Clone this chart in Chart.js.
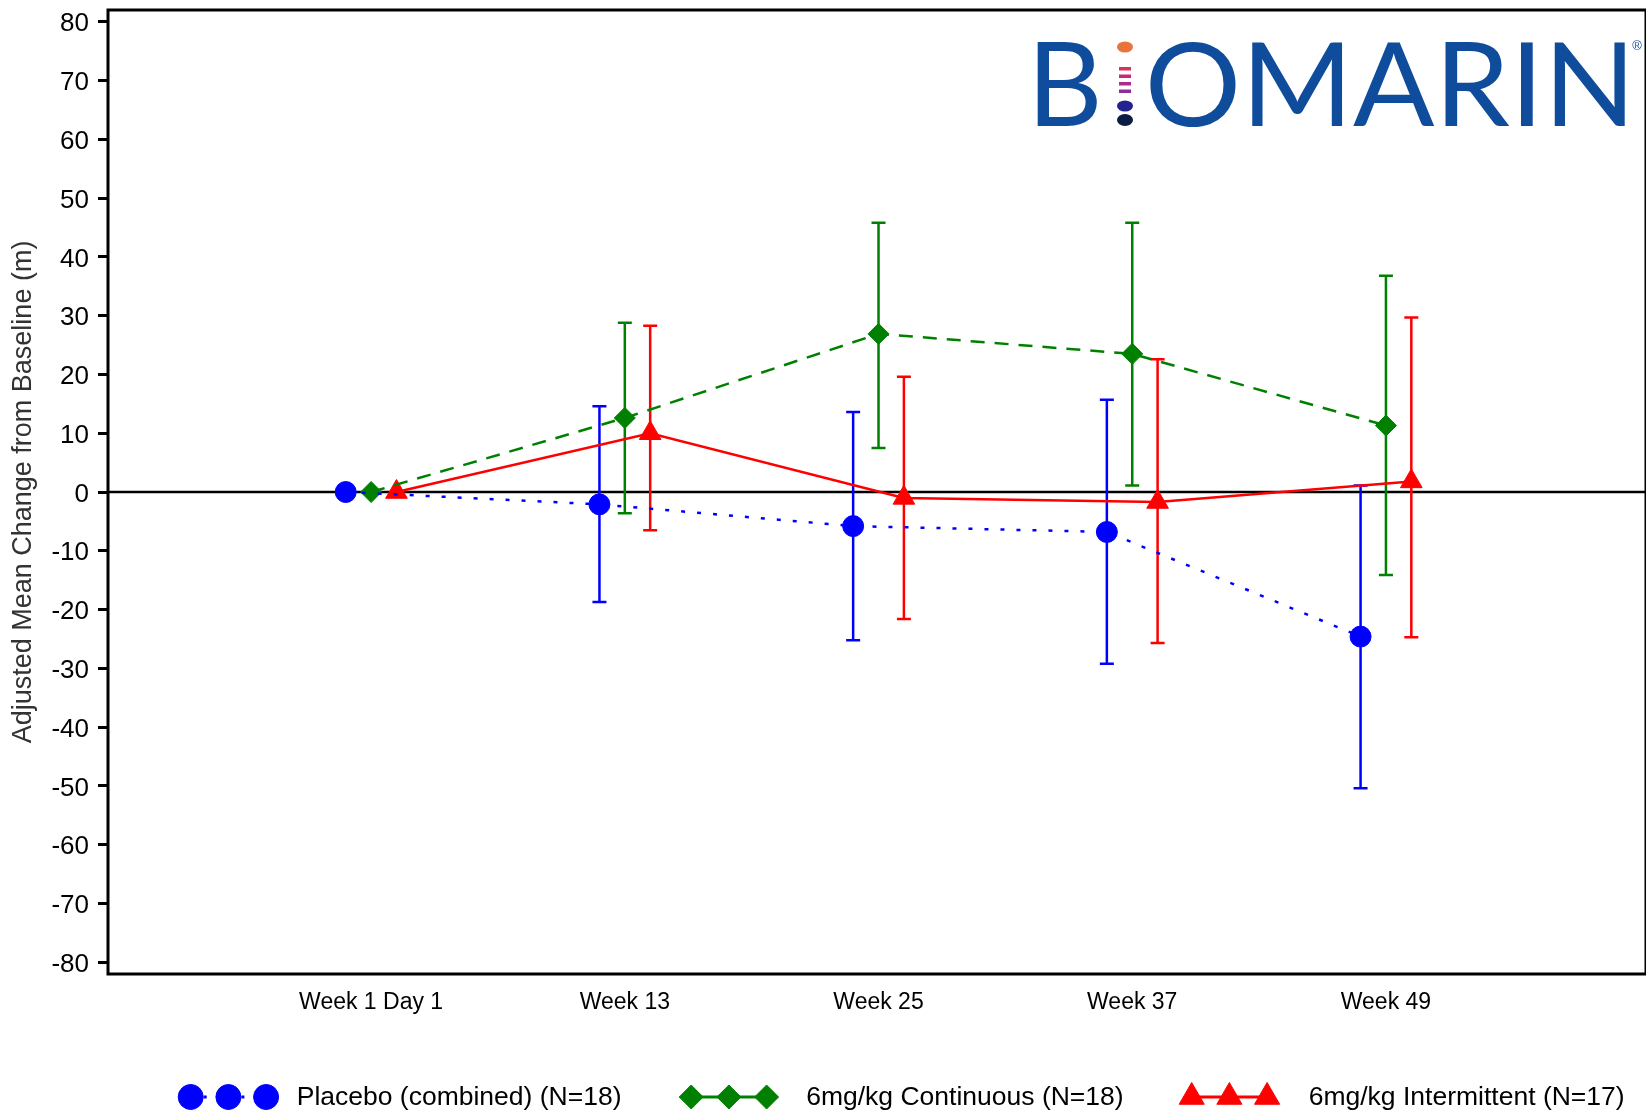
<!DOCTYPE html>
<html>
<head>
<meta charset="utf-8">
<script src="https://cdn.jsdelivr.net/npm/chart.js@4.4.0/dist/chart.umd.min.js"></script>
<style>
  html, body { margin: 0; padding: 0; background: #fff; }
  canvas { display: block; }
</style>
</head>
<body>
<canvas id="c" width="1646" height="1115"></canvas>
<script>
// Visits on the x axis
const visits = ['Week 1 Day 1', 'Week 13', 'Week 25', 'Week 37', 'Week 49'];
const yTickValues = [80, 70, 60, 50, 40, 30, 20, 10, 0, -10, -20, -30, -40, -50, -60, -70, -80];

const seriesNames = ['Placebo (combined) (N=18)', '6mg/kg Continuous (N=18)', '6mg/kg Intermittent (N=17)'];

// Adjusted mean change from baseline (m) with 95% CI limits
const placeboMean  = [0, -2.1, -5.8, -6.8, -24.6];
const placeboLower = [null, -18.7, -25.2, -29.2, -50.4];
const placeboUpper = [null, 14.6, 13.6, 15.7, 1.1];

const continuousMean  = [0, 12.6, 26.9, 23.5, 11.3];
const continuousLower = [null, -3.6, 7.5, 1.1, -14.1];
const continuousUpper = [null, 28.8, 45.8, 45.8, 36.8];

const intermittentMean  = [0, 10.0, -1.0, -1.7, 1.8];
const intermittentLower = [null, -6.5, -21.6, -25.7, -24.7];
const intermittentUpper = [null, 28.3, 19.6, 22.6, 29.7];

const FONT = 'Liberation Sans, Arial, sans-serif';

// groups are dodged sideways around each visit
function toPoints(values, shift) {
  return values.map((v, i) => ({ x: i + shift, y: v }));
}

const datasets = [
  {
    label: seriesNames[0],
    data: toPoints(placeboMean, -0.1),
    errLow: placeboLower, errHigh: placeboUpper,
    showLine: true, borderColor: '#0000ff', borderWidth: 2.5, borderDash: [4, 12],
    pointStyle: 'circle', pointRadius: 10.5, pointBorderWidth: 1,
    pointBackgroundColor: '#0000ff', pointBorderColor: '#0000ff',
    legendRadius: 12.5, legendDash: [3, 10]
  },
  {
    label: seriesNames[1],
    data: toPoints(continuousMean, 0),
    errLow: continuousLower, errHigh: continuousUpper,
    showLine: true, borderColor: '#008000', borderWidth: 2.5, borderDash: [14, 10],
    pointStyle: 'rectRot', pointRadius: 10.5, pointBorderWidth: 1,
    pointBackgroundColor: '#008000', pointBorderColor: '#008000',
    legendRadius: 12, legendDash: []
  },
  {
    label: seriesNames[2],
    data: toPoints(intermittentMean, 0.1),
    errLow: intermittentLower, errHigh: intermittentUpper,
    showLine: true, borderColor: '#ff0000', borderWidth: 2.5, borderDash: [],
    pointStyle: 'triangle', pointRadius: 12.5, pointBorderWidth: 1,
    pointBackgroundColor: '#ff0000', pointBorderColor: '#ff0000',
    legendRadius: 14.5, legendDash: []
  }
];

// horizontal reference line at zero
const zeroLine = {
  id: 'zeroLine',
  beforeDatasetsDraw(chart) {
    const { ctx, chartArea, scales: { y } } = chart;
    const py = y.getPixelForValue(0);
    ctx.save();
    ctx.strokeStyle = '#000';
    ctx.lineWidth = 2.5;
    ctx.beginPath();
    ctx.moveTo(chartArea.left, py);
    ctx.lineTo(chartArea.right, py);
    ctx.stroke();
    ctx.restore();
  }
};

// vertical CI whiskers with caps
const errorBars = {
  id: 'errorBars',
  beforeDatasetsDraw(chart) {
    const { ctx, scales: { x, y } } = chart;
    chart.data.datasets.forEach(ds => {
      ctx.save();
      ctx.strokeStyle = ds.borderColor;
      ctx.lineWidth = 2.5;
      ctx.setLineDash([]);
      ds.data.forEach((p, i) => {
        const lo = ds.errLow[i], hi = ds.errHigh[i];
        if (lo == null || hi == null) return;
        const px = x.getPixelForValue(p.x);
        const yl = y.getPixelForValue(lo);
        const yh = y.getPixelForValue(hi);
        ctx.beginPath();
        ctx.moveTo(px, yl); ctx.lineTo(px, yh);
        ctx.moveTo(px - 7, yl); ctx.lineTo(px + 7, yl);
        ctx.moveTo(px - 7, yh); ctx.lineTo(px + 7, yh);
        ctx.stroke();
      });
      ctx.restore();
    });
  }
};

// box around the plotting area
const frame = {
  id: 'frame',
  afterDatasetsDraw(chart) {
    const { ctx, chartArea: a } = chart;
    ctx.save();
    ctx.strokeStyle = '#000';
    ctx.lineWidth = 3;
    ctx.strokeRect(a.left, a.top, a.right - a.left, a.bottom - a.top);
    ctx.restore();
  }
};

// legend row under the axis: three symbols joined by the series line, then the name
const bottomLegend = {
  id: 'bottomLegend',
  afterDraw(chart, args, opts) {
    const { ctx } = chart;
    chart.data.datasets.forEach((ds, i) => {
      const x0 = opts.firstX + i * opts.pitch;
      const xs = [x0, x0 + opts.symbolGap, x0 + 2 * opts.symbolGap];
      ctx.save();
      ctx.strokeStyle = ds.borderColor;
      ctx.lineWidth = 3;
      ctx.setLineDash(ds.legendDash);
      for (let k = 0; k < 2; k++) {
        ctx.beginPath();
        ctx.moveTo(xs[k], opts.y);
        ctx.lineTo(xs[k + 1], opts.y);
        ctx.stroke();
      }
      ctx.setLineDash([]);
      ctx.fillStyle = ds.pointBackgroundColor;
      ctx.strokeStyle = ds.pointBorderColor;
      ctx.lineWidth = 1;
      xs.forEach(px => {
        Chart.helpers.drawPoint(ctx, { pointStyle: ds.pointStyle, radius: ds.legendRadius, rotation: 0, borderWidth: 1 }, px, opts.y);
      });
      ctx.fillStyle = '#000';
      ctx.font = opts.fontSize + 'px ' + FONT;
      ctx.textAlign = 'left';
      ctx.textBaseline = 'middle';
      ctx.fillText(ds.label, x0 + opts.textGap[i], opts.y + 1);
      ctx.restore();
    });
  }
};

// company wordmark in the upper right
const wordmark = {
  id: 'wordmark',
  afterDraw(chart) {
    const { ctx } = chart;
    const blue = '#0f4c9c';
    const base = 126;
    function fitted(text, x0, x1) {
      ctx.save();
      ctx.font = '400 117px Lato, sans-serif';
      ctx.textBaseline = 'alphabetic';
      const m = ctx.measureText(text);
      const inkW = m.actualBoundingBoxRight + m.actualBoundingBoxLeft;
      ctx.translate(x0, base);
      ctx.scale((x1 - x0) / inkW, 1);
      ctx.fillStyle = blue;
      ctx.fillText(text, m.actualBoundingBoxLeft, 0);
      ctx.restore();
    }
    fitted('B', 1037, 1097);
    fitted('OMARIN', 1150, 1625);
    // stacked dots standing in for the letter I
    ctx.save();
    const cx = 1125;
    ctx.fillStyle = '#e8743b';
    ctx.beginPath(); ctx.ellipse(cx, 47, 8, 5.5, 0, 0, Math.PI * 2); ctx.fill();
    ['#d8325a', '#c8287a', '#b02a8e', '#8e2c9a'].forEach((c, k) => {
      ctx.fillStyle = c;
      ctx.fillRect(cx - 6, 67 + k * 7.5, 12, 3.5);
    });
    ctx.fillStyle = '#22238c';
    ctx.beginPath(); ctx.ellipse(cx, 106, 8, 5.5, 0, 0, Math.PI * 2); ctx.fill();
    ctx.fillStyle = '#0b1d45';
    ctx.beginPath(); ctx.ellipse(cx, 120, 8, 6, 0, 0, Math.PI * 2); ctx.fill();
    ctx.fillStyle = blue;
    ctx.font = '13px ' + FONT;
    ctx.textAlign = 'center';
    ctx.textBaseline = 'middle';
    ctx.fillText('\u00AE', 1637, 46);
    ctx.restore();
  }
};

new Chart(document.getElementById('c'), {
  type: 'scatter',
  data: { datasets },
  options: {
    responsive: false,
    devicePixelRatio: 1,
    animation: false,
    layout: { autoPadding: false, padding: { left: 0, right: 0, top: 10, bottom: 81 } },
    elements: { line: { tension: 0 } },
    plugins: {
      legend: { display: false },
      tooltip: { enabled: false },
      bottomLegend: { firstX: 190.7, pitch: 500.5, symbolGap: 37.7, textGap: [106, 115, 117], y: 1097, fontSize: 26.5 }
    },
    scales: {
      x: {
        type: 'linear',
        min: -1.037,
        max: 5.025,
        grid: { display: false, drawTicks: false },
        border: { display: false },
        afterBuildTicks: s => { s.ticks = visits.map((_, i) => ({ value: i })); },
        ticks: {
          callback: v => visits[v] ?? '',
          font: { family: FONT, size: 23 },
          color: '#000',
          padding: 15,
          maxRotation: 0,
          autoSkip: false
        },
        afterFit: s => { s.height = 60; s.paddingLeft = 0; s.paddingRight = 0; }
      },
      y: {
        min: -82,
        max: 82,
        afterBuildTicks: s => { s.ticks = yTickValues.map(v => ({ value: v })); },
        grid: { drawOnChartArea: false, drawTicks: true, tickLength: 10, tickWidth: 3, color: '#000' },
        border: { display: false },
        ticks: { font: { family: FONT, size: 26 }, color: '#000', padding: 9, labelOffset: 2.5 },
        title: {
          display: true,
          text: 'Adjusted Mean Change from Baseline (m)',
          font: { family: FONT, size: 27 },
          color: '#333',
          padding: { top: 7, bottom: 0 }
        },
        afterFit: s => { s.width = 108; s.paddingTop = 0; s.paddingBottom = 0; }
      }
    }
  },
  plugins: [zeroLine, errorBars, frame, bottomLegend, wordmark]
});
</script>
</body>
</html>
